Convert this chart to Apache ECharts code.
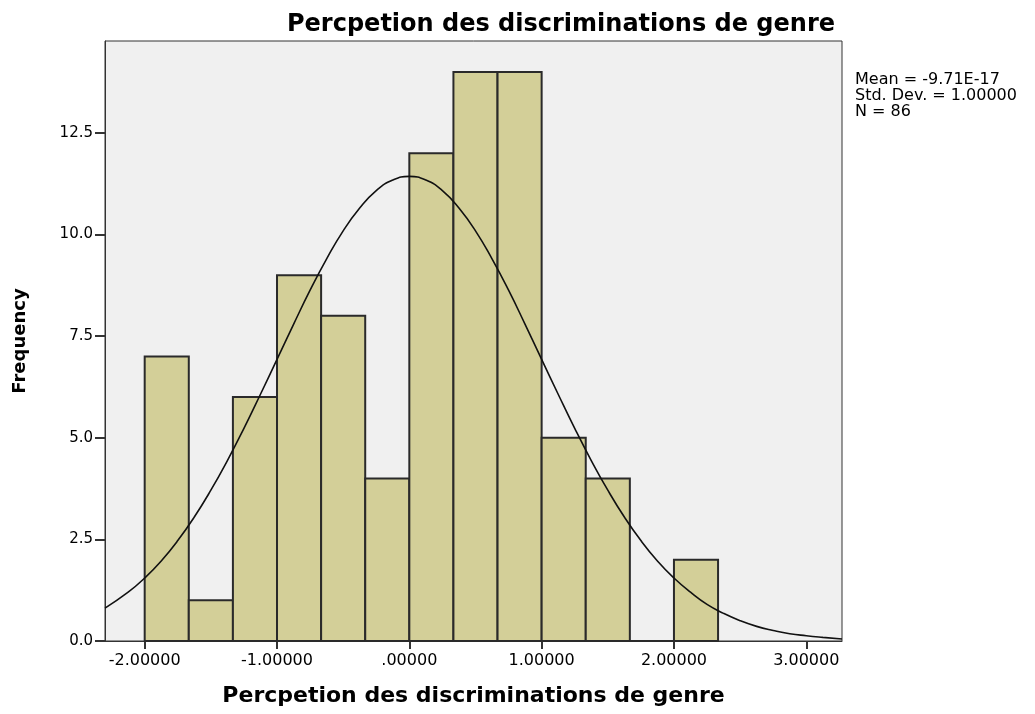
<!DOCTYPE html>
<html>
<head>
<meta charset="utf-8">
<script src="https://cdn.jsdelivr.net/npm/echarts@6/dist/echarts.min.js"></script>
<style>
	html, body { margin: 0; padding: 0; background: #ffffff; }
	#chart { width: 1035px; height: 714px; }
</style>
</head>
<body>
<div id="chart"></div>
<script>
// histogram bins (left edge, width 1/3)
const binStarts = [-2.0, -1.6667, -1.3333, -1.0, -0.6667, -0.3333, 0.0, 0.3333, 0.6667, 1.0, 1.3333, 1.6667, 2.0];
const binWidth = 0.3333;
const counts = [7, 1, 6, 9, 8, 4, 12, 14, 14, 5, 4, 0, 2];

// normal curve
const curveX = [-2.3, -2.125, -2.0, -1.875, -1.75, -1.625, -1.5, -1.375, -1.25, -1.125, -1.0, -0.875, -0.75, -0.625, -0.5, -0.375, -0.25, -0.125, 0,
	0.125, 0.25, 0.375, 0.5, 0.625, 0.75, 0.875, 1.0, 1.125, 1.25, 1.375, 1.5, 1.625, 1.75, 1.875, 2.0, 2.125, 2.25, 2.375, 2.5, 2.625, 2.75, 2.875, 3.0, 3.125, 3.27];
const curveY = [0.81, 1.20, 1.55, 1.97, 2.47, 3.05, 3.71, 4.44, 5.23, 6.07, 6.93, 7.79, 8.63, 9.40, 10.09, 10.65, 11.08, 11.34, 11.43,
	11.34, 11.08, 10.65, 10.09, 9.40, 8.63, 7.79, 6.93, 6.07, 5.23, 4.44, 3.71, 3.05, 2.47, 1.97, 1.55, 1.20, 0.90, 0.68, 0.50, 0.36, 0.26, 0.18, 0.13, 0.09, 0.05];

const xTicks = [-2, -1, 0, 1, 2, 3];
const xTickLabels = ["-2.00000", "-1.00000", ".00000", "1.00000", "2.00000", "3.00000"];
const yTicks = [0, 2.5, 5, 7.5, 10, 12.5];

const statsText = ["Mean = -9.71E-17", "Std. Dev. = 1.00000", "N = 86"];

let chart = echarts.init(document.getElementById("chart"));

let barData = [];
for (let i = 0; i < binStarts.length; i++) {
	barData.push([binStarts[i], binStarts[i] + binWidth, counts[i]]);
}
let curveData = [];
for (let i = 0; i < curveX.length; i++) {
	curveData.push([curveX[i], curveY[i]]);
}

let option = {
	backgroundColor: "#ffffff",
	animation: false,
	title: {
		text: "Percpetion des discriminations de genre",
		left: 556,
		textAlign: "center",
		top: 8,
		textStyle: {
			fontFamily: "DejaVu Sans",
			fontSize: 24,
			fontWeight: "bold",
			color: "#000000"
		}
	},
	graphic: [
		{
			type: "text",
			left: 855,
			top: 72,
			style: {
				text: statsText.join("\n"),
				font: "16px 'DejaVu Sans'",
				lineHeight: 16,
				fill: "#000000"
			}
		}
	],
	grid: {
		left: 105,
		right: 193,
		top: 41,
		bottom: 73,
		show: true,
		backgroundColor: "#f0f0f0",
		borderColor: "#333333",
		borderWidth: 1
	},
	xAxis: {
		type: "value",
		min: -2.3,
		max: 3.27,
		name: "Percpetion des discriminations de genre",
		nameLocation: "middle",
		nameGap: 44,
		nameTextStyle: {
			fontFamily: "DejaVu Sans",
			fontSize: 22,
			fontWeight: "bold",
			color: "#000000"
		},
		splitLine: { show: false },
		axisLine: { onZero: false, lineStyle: { color: "#333333", width: 1 } },
		axisTick: {
			show: true,
			customValues: xTicks,
			length: 8,
			lineStyle: { color: "#333333", width: 2 }
		},
		axisLabel: {
			customValues: xTicks,
			margin: 12,
			fontFamily: "DejaVu Sans",
			fontSize: 16,
			color: "#000000",
			formatter: function(v) {
				let idx = xTicks.indexOf(v);
				return idx >= 0 ? xTickLabels[idx] : "";
			}
		}
	},
	yAxis: {
		type: "value",
		min: 0,
		max: 14.76,
		name: "Frequency",
		nameLocation: "middle",
		nameGap: 76,
		nameTextStyle: {
			fontFamily: "DejaVu Sans",
			fontSize: 18,
			fontWeight: "bold",
			color: "#000000"
		},
		splitLine: { show: false },
		axisLine: { show: true, onZero: false, lineStyle: { color: "#333333", width: 1 } },
		axisTick: {
			show: true,
			customValues: yTicks,
			length: 10,
			lineStyle: { color: "#333333", width: 2 }
		},
		axisLabel: {
			customValues: yTicks,
			margin: 12,
			fontFamily: "DejaVu Sans",
			fontSize: 15,
			color: "#000000",
			formatter: function(v) {
				return v.toFixed(1);
			}
		}
	},
	series: [
		{
			name: "Frequency",
			type: "custom",
			data: barData,
			encode: { x: [0, 1], y: 2 },
			renderItem: function(params, api) {
				let p0 = api.coord([api.value(0), 0]);
				let p1 = api.coord([api.value(1), api.value(2)]);
				return {
					type: "rect",
					shape: {
						x: p0[0],
						y: p1[1],
						width: p1[0] - p0[0],
						height: p0[1] - p1[1]
					},
					style: {
						fill: "#d3cf98",
						stroke: "#2a2a2a",
						lineWidth: 2
					}
				};
			},
			z: 2
		},
		{
			name: "Normal",
			type: "line",
			data: curveData,
			smooth: true,
			showSymbol: false,
			lineStyle: { color: "#111111", width: 1.6 },
			z: 3
		}
	]
};
chart.setOption(option);
</script>
</body>
</html>
